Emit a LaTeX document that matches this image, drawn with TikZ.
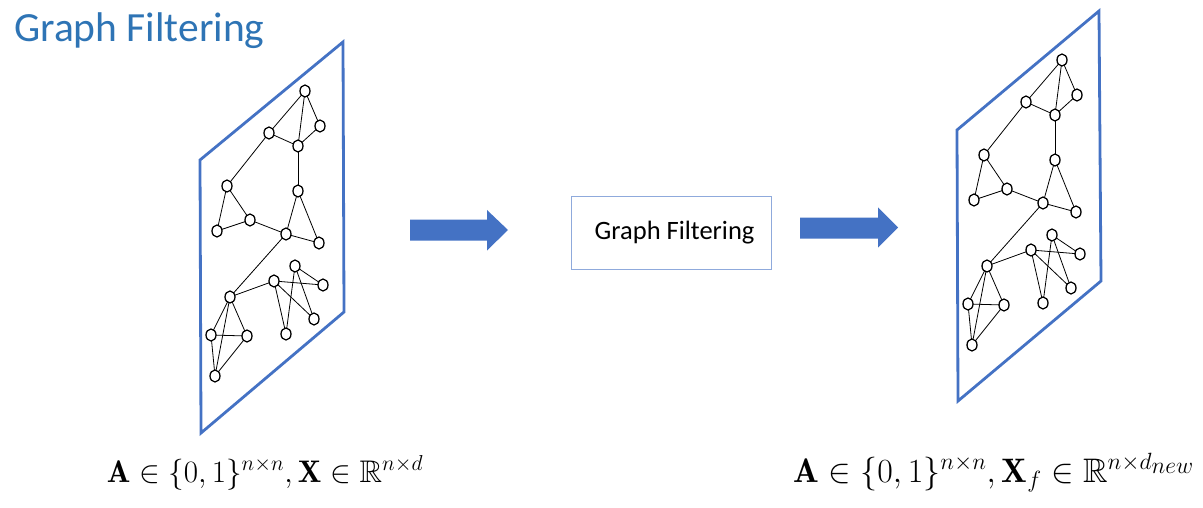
\documentclass[tikz,border=0pt]{standalone}
\usepackage{amsmath,amssymb}
\usepackage{graphicx}
\usepackage{fontspec}
\newfontfamily\calib{Carlito}
\usetikzlibrary{shapes.geometric}
\definecolor{planeblue}{HTML}{4472C4}
\definecolor{titleblue}{HTML}{2E74B5}
\definecolor{boxblue}{HTML}{8FAADC}
\tikzset{
  vtx/.style={ellipse,draw=black,line width=1.3pt,fill=white,minimum width=10pt,minimum height=12pt,inner sep=0pt},
  edg/.style={draw=black,line width=0.8pt},
  plane/.style={draw=planeblue,line width=2.8pt,line join=miter},
  blockarrow/.style={fill=planeblue,draw=none},
}
\begin{document}
\begin{tikzpicture}[x=1pt,y=-1pt]
\useasboundingbox (0,0) rectangle (1203,508);
% title
\node[anchor=base west,text=titleblue,inner sep=0pt] (title) at (14,42) {\calib\fontsize{41.5}{48}\selectfont Graph Filtering};
% planes
\draw[plane] (200,160) -- (343,42) -- (344,312) -- (201,433) -- cycle;
\draw[plane] (957,130) -- (1099,11) -- (1101,281) -- (958,401) -- cycle;
% graphs
\foreach \dx/\dy/\g in {0/0/L,757/-31/R}{
  \begin{scope}[shift={(\dx,\dy)}]
    \coordinate (\g1) at (305,91);
    \coordinate (\g2) at (320,126);
    \coordinate (\g3) at (269,133);
    \coordinate (\g4) at (298,146);
    \coordinate (\g5) at (227,186);
    \coordinate (\g6) at (298,191);
    \coordinate (\g7) at (250,220);
    \coordinate (\g8) at (217,231);
    \coordinate (\g9) at (286,234);
    \coordinate (\g10) at (319,243);
    \coordinate (\g11) at (230,297);
    \coordinate (\g12) at (274,281);
    \coordinate (\g13) at (295,266);
    \coordinate (\g14) at (323,285);
    \coordinate (\g15) at (314,319);
    \coordinate (\g16) at (286,334);
    \coordinate (\g17) at (211,335);
    \coordinate (\g18) at (247,336);
    \coordinate (\g19) at (215,376);
  \end{scope}
  \foreach \a/\b in {1/2,1/3,1/4,2/4,3/4,3/5,4/6,5/7,5/8,7/8,7/9,6/9,6/10,9/10,9/11,11/12,11/17,11/18,11/19,17/18,17/19,18/19,12/14,12/15,12/16,13/16,13/14,13/15}{
    \draw[edg] (\g\a) -- (\g\b);
  }
  \foreach \i in {1,...,19}{
    \node[vtx] (\g v\i) at (\g\i) {};
  }
}
% block arrows
\fill[blockarrow] (410,219.5) -- (487,219.5) -- (487,210) -- (508,230) -- (487,250.5) -- (487,240.5) -- (410,240.5) -- cycle;
\fill[blockarrow] (800,217.5) -- (878,217.5) -- (878,207.5) -- (898,227.5) -- (878,247.5) -- (878,238.5) -- (800,238.5) -- cycle;
% filter box
\node[draw=boxblue,line width=1pt,minimum width=200pt,minimum height=73pt,inner sep=0pt] (box) at (671,233) {};
\node[anchor=base west,inner sep=0pt] (boxtext) at (594.5,239) {\calib\fontsize{26.5}{30}\selectfont Graph Filtering};
% labels
\node[anchor=base,inner sep=0pt] (lab1) at (265,482) {\scalebox{1.25}{\fontsize{25}{30}\selectfont $\mathbf{A}\in\{0,1\}^{n\times n},\mathbf{X}\in\mathbb{R}^{n\times d}$}};
\node[anchor=base,inner sep=0pt] (lab2) at (994,482) {\scalebox{1.36}{\fontsize{25}{30}\selectfont $\mathbf{A}\in\{0,1\}^{n\times n},\mathbf{X}_f\in\mathbb{R}^{n\times d_{\scriptstyle new}}$}};
\end{tikzpicture}
\end{document}
